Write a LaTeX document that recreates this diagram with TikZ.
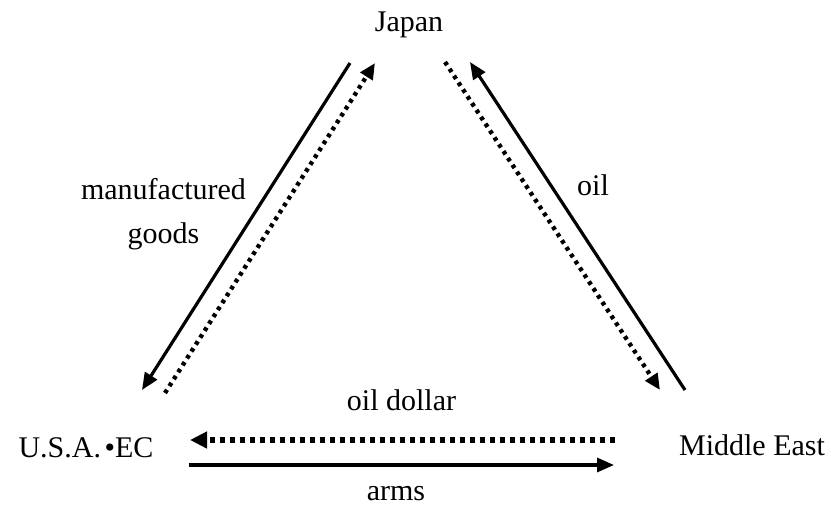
\documentclass[tikz,border=0pt]{standalone}
\usepackage{fontspec}
\setmainfont{Liberation Serif}
\usetikzlibrary{arrows.meta}
\begin{document}
\begin{tikzpicture}[x=1pt,y=-1pt,
  lbl/.style={anchor=base,inner sep=0pt,font=\fontsize{30}{36}\selectfont},
  solidarrow/.style={line width=3.2pt,-{Triangle[length=17pt,width=14pt]}},
  dotarrow/.style={line width=4.4pt,dash pattern=on 3.8pt off 4.4pt,-{Triangle[length=16pt,width=14pt]}},
  hdotarrow/.style={line width=5.5pt,dash pattern=on 5.5pt off 4.5pt,-{Triangle[length=17pt,width=16pt]}}]
\useasboundingbox (0,0) rectangle (831,507);
% country nodes
\node[lbl] (japan) at (409,31) {Japan};
\node[lbl] (usa) at (86,457) {U.S.A.\hspace{0.12em}•EC};
\node[lbl] (me) at (752,455) {Middle East};
% labels
\node[lbl] (manu) at (163.5,199) {manufactured};
\node[lbl] (goods) at (163.5,243) {goods};
\node[lbl] (oil) at (593,195) {oil};
\node[lbl] (oildollar) at (401.5,410) {oil dollar};
\node[lbl] (arms) at (396,500) {arms};
% connector end points
\coordinate (jl1) at (350,63);
\coordinate (ul1) at (142,390);
\coordinate (ul2) at (165,393);
\coordinate (jl2) at (375,63);
\coordinate (jr1) at (445,62);
\coordinate (mr1) at (660,390);
\coordinate (mr2) at (685,390);
\coordinate (jr2) at (470,62);
\coordinate (mh1) at (615,440);
\coordinate (uh1) at (190,440);
\coordinate (uh2) at (189,465);
\coordinate (mh2) at (614,465);
% connectors
\draw[solidarrow] (jl1) -- (ul1);
\draw[dotarrow] (ul2) -- (jl2);
\draw[dotarrow] (jr1) -- (mr1);
\draw[solidarrow] (mr2) -- (jr2);
\draw[hdotarrow] (mh1) -- (uh1);
\draw[solidarrow] (uh2) -- (mh2);
\end{tikzpicture}
\end{document}
